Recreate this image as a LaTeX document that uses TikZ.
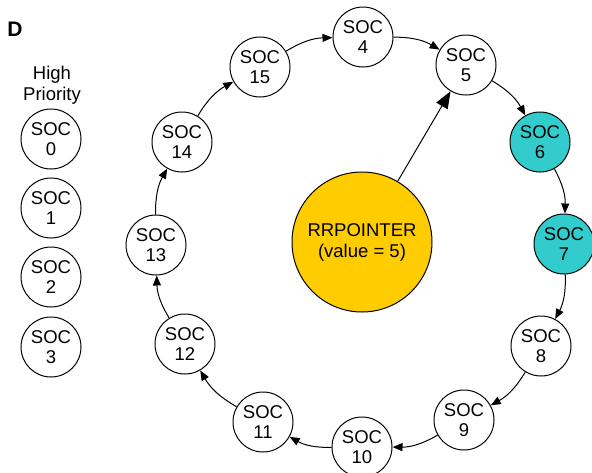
\documentclass[tikz,border=0pt]{standalone}
\usepackage{fontspec}
\setmainfont{Liberation Sans}
\usetikzlibrary{arrows.meta}
\definecolor{socteal}{RGB}{51,204,204}
\definecolor{rryellow}{RGB}{255,204,0}
\begin{document}
\begin{tikzpicture}[x=1pt,y=-1pt,
  soc/.style={circle,draw,line width=1pt,minimum size=60pt,inner sep=0pt,align=center,
    font=\fontsize{18.5}{20.5}\selectfont},
  hot/.style={soc,fill=socteal},
  ring/.style={line width=1pt,-{Triangle[length=10pt,width=8pt]},bend left=15},
  lbl/.style={align=center,font=\fontsize{18.5}{20.5}\selectfont}]
\useasboundingbox (0,0) rectangle (592,472);
\node[font=\fontsize{21}{22}\selectfont\bfseries] (D) at (15,29) {D};
\node[lbl] (hp) at (52,85) {High\\Priority};
\node[soc] (s0) at (51,139) {SOC\\0};
\node[soc] (s1) at (51,208) {SOC\\1};
\node[soc] (s2) at (51,277) {SOC\\2};
\node[soc] (s3) at (51,347) {SOC\\3};
\node[soc] (n4) at (363,37) {SOC\\4};
\node[soc] (n5) at (466,65) {SOC\\5};
\node[hot] (n6) at (540,142) {SOC\\6};
\node[hot] (n7) at (564,244) {SOC\\7};
\node[soc] (n8) at (541,346) {SOC\\8};
\node[soc] (n9) at (464,420) {SOC\\9};
\node[soc] (n10) at (362,447) {SOC\\10};
\node[soc] (n11) at (263,422) {SOC\\11};
\node[soc] (n12) at (185,344) {SOC\\12};
\node[soc] (n13) at (156,245) {SOC\\13};
\node[soc] (n14) at (182,142) {SOC\\14};
\node[soc] (n15) at (260,67) {SOC\\15};
\node[circle,draw,line width=1pt,fill=rryellow,minimum size=140pt,inner sep=0pt,align=center,
  font=\fontsize{18.5}{21}\selectfont] (rr) at (362,242) {RRPOINTER\\(value = 5)};
\draw[ring] (n15) to (n4);
\draw[ring] (n4) to (n5);
\draw[ring] (n5) to (n6);
\draw[ring] (n6) to (n7);
\draw[ring] (n7) to (n8);
\draw[ring] (n8) to (n9);
\draw[ring] (n9) to (n10);
\draw[ring] (n10) to (n11);
\draw[ring] (n11) to (n12);
\draw[ring] (n12) to (n13);
\draw[ring] (n13) to (n14);
\draw[ring] (n14) to (n15);
\draw[line width=1pt,-{Triangle[length=17pt,width=13pt]}] (rr) -- (n5);
\end{tikzpicture}
\end{document}
